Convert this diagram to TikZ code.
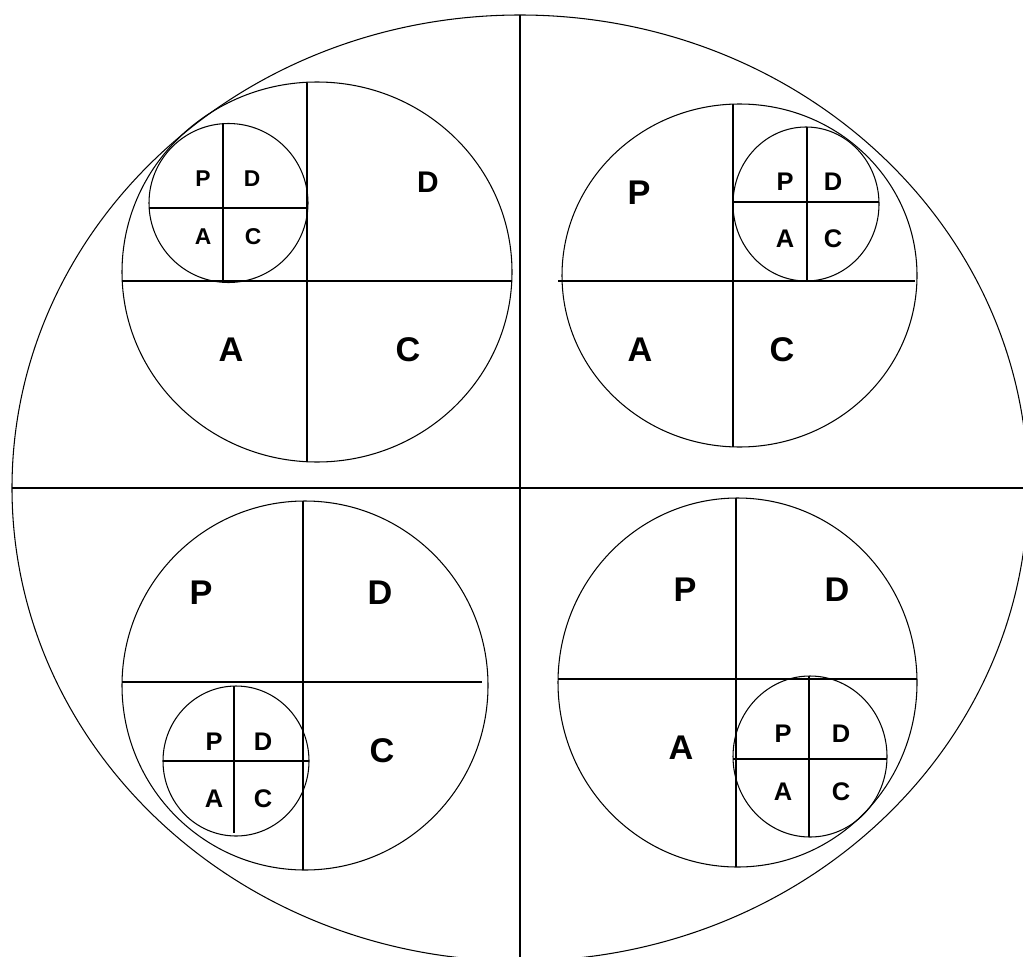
\documentclass[tikz,border=0pt]{standalone}
\usepackage{fontspec}
\setmainfont{Liberation Sans}
\usepackage{tikz}

\begin{document}
\begin{tikzpicture}[x=0.02cm, y=-0.02cm,
    ring/.style={line width=0.6pt},
    cut/.style={line width=0.7pt},
    lbig/.style={inner sep=0pt, font=\fontsize{19.5}{20}\selectfont\bfseries},
    lsmall/.style={inner sep=0pt, font=\fontsize{14.5}{15}\selectfont\bfseries}]
    \useasboundingbox (0,0) rectangle (1023,956);

    % outer ellipse and its cross
    \draw[ring] (520,488) ellipse [x radius=508, y radius=473];
    \draw[cut] (520,15) -- (520,960);
    \draw[cut] (12,488) -- (1028,488);

    % top left
    \draw[ring] (317,272) ellipse [x radius=195, y radius=190];
    \draw[cut] (307,83) -- (307,462);
    \draw[cut] (122,281) -- (512,281);
    \draw[ring] (228.5,203) ellipse [x radius=79.5, y radius=79.5];
    \draw[cut] (223,123) -- (223,282);
    \draw[cut] (149,208) -- (308,208);
    \path (203,179) node[lsmall, font=\fontsize{13}{14}\selectfont\bfseries] (tlp) {P};
    \path (252,179) node[lsmall, font=\fontsize{13}{14}\selectfont\bfseries] (tld) {D};
    \path (203,237) node[lsmall, font=\fontsize{13}{14}\selectfont\bfseries] (tla) {A};
    \path (253,237) node[lsmall, font=\fontsize{13}{14}\selectfont\bfseries] (tlc) {C};
    \path (428,182) node[lbig, font=\fontsize{17}{18}\selectfont\bfseries] (TLD) {D};
    \path (231,350) node[lbig] (TLA) {A};
    \path (408,350) node[lbig] (TLC) {C};

    % top right
    \draw[ring] (739.5,275.5) ellipse [x radius=177.5, y radius=171.5];
    \draw[cut] (733,104) -- (733,447);
    \draw[cut] (558,281) -- (915,281);
    \draw[ring] (806,204) ellipse [x radius=73, y radius=77];
    \draw[cut] (807,127) -- (807,281);
    \draw[cut] (733,202) -- (879,202);
    \path (785,182) node[lsmall] (trp) {P};
    \path (833,182) node[lsmall] (trd) {D};
    \path (785,239) node[lsmall] (tra) {A};
    \path (833,239) node[lsmall] (trc) {C};
    \path (639,193) node[lbig] (TRP) {P};
    \path (640,350) node[lbig] (TRA) {A};
    \path (782,350) node[lbig] (TRC) {C};

    % bottom left
    \draw[ring] (305,685.5) ellipse [x radius=183, y radius=184.5];
    \draw[cut] (303,501) -- (303,870);
    \draw[cut] (122,682) -- (482,682);
    \draw[ring] (236,761) ellipse [x radius=73, y radius=75];
    \draw[cut] (234,686) -- (234,833);
    \draw[cut] (163,761) -- (309,761);
    \path (214,742) node[lsmall] (blp) {P};
    \path (263,742) node[lsmall] (bld) {D};
    \path (214,799) node[lsmall] (bla) {A};
    \path (263,799) node[lsmall] (blc) {C};
    \path (201,593) node[lbig] (BLP) {P};
    \path (380,593) node[lbig] (BLD) {D};
    \path (382,751) node[lbig] (BLC) {C};

    % bottom right
    \draw[ring] (737.5,682.5) ellipse [x radius=179.5, y radius=184.5];
    \draw[cut] (736,498) -- (736,867);
    \draw[cut] (558,679) -- (917,679);
    \draw[ring] (810,756.5) ellipse [x radius=77, y radius=80.5];
    \draw[cut] (809,676) -- (809,837);
    \draw[cut] (733,759) -- (887,759);
    \path (783,734) node[lsmall] (brp) {P};
    \path (841,734) node[lsmall] (brd) {D};
    \path (783,792) node[lsmall] (bra) {A};
    \path (841,792) node[lsmall] (brc) {C};
    \path (685,590) node[lbig] (BRP) {P};
    \path (837,590) node[lbig] (BRD) {D};
    \path (681,748) node[lbig] (BRA) {A};
\end{tikzpicture}
\end{document}
